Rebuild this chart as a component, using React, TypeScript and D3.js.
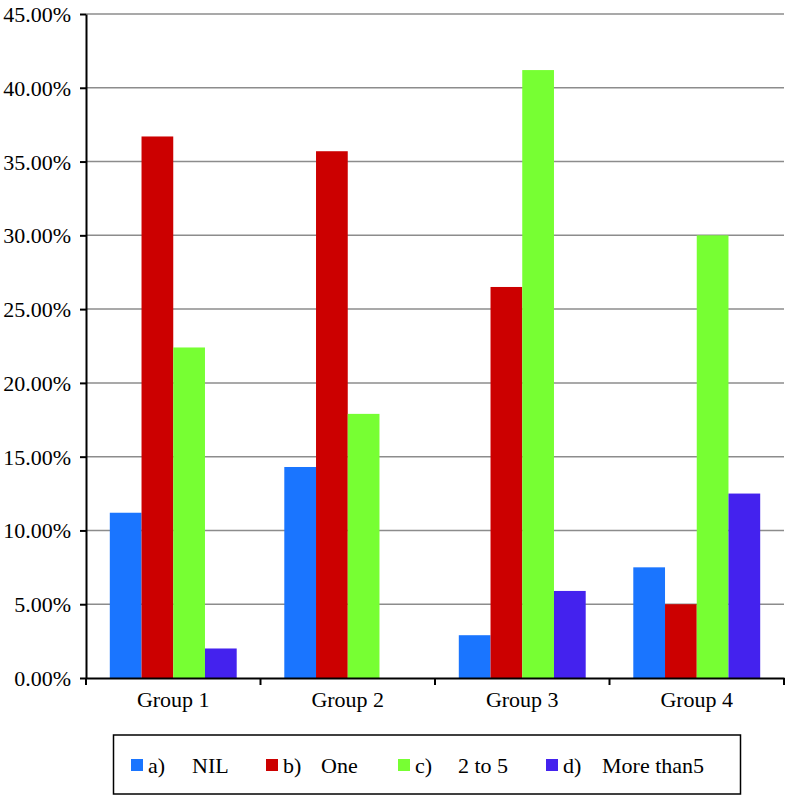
import React, { useRef, useEffect } from 'react';
import * as d3 from 'd3';

const groups = ['Group 1', 'Group 2', 'Group 3', 'Group 4'];
const seriesKeys = ['a)', 'b)', 'c)', 'd)'];
const seriesNames = ['NIL', 'One', '2 to 5', 'More than5'];
const nilValues = [11.2, 14.3, 2.9, 7.5];
const oneValues = [36.7, 35.7, 26.5, 5.0];
const twoToFiveValues = [22.4, 17.9, 41.2, 30.0];
const moreThanFiveValues = [2.0, 0, 5.9, 12.5];
const yTicks = [0, 5, 10, 15, 20, 25, 30, 35, 40, 45];
const colors = ['#1a75ff', '#cc0000', '#77ff33', '#4422ee'];

const W = 786;
const H = 796;
const margin = { left: 86, right: 2, top: 14, bottom: 118 };
const font = "'Liberation Serif', 'DejaVu Serif', serif";
const fontSize = '22px';

const App = () => {
  const ref = useRef<SVGSVGElement>(null);

  useEffect(() => {
    const svg = d3.select(ref.current).attr('width', W).attr('height', H);
    svg.selectAll('*').remove();

    const allSeries = [nilValues, oneValues, twoToFiveValues, moreThanFiveValues];

    const x0 = d3.scaleBand().domain(groups).range([margin.left, W - margin.right]);
    // gap width 150%: 4 bars + 1.5 bar of gap per band
    const x1 = d3.scaleBand().domain(seriesKeys).range([0, x0.bandwidth()]).paddingOuter(0.75).paddingInner(0);
    const y = d3.scaleLinear().domain([0, 45]).range([H - margin.bottom, margin.top]);

    // gridlines
    svg.append('g')
      .selectAll('line')
      .data(yTicks.filter(t => t > 0))
      .enter().append('line')
      .attr('x1', margin.left)
      .attr('x2', W - margin.right)
      .attr('y1', d => y(d))
      .attr('y2', d => y(d))
      .attr('stroke', '#8c8c8c')
      .attr('stroke-width', 1.5);

    // bars
    const gGroups = svg.append('g')
      .selectAll('g')
      .data(groups)
      .enter().append('g')
      .attr('transform', d => `translate(${x0(d)},0)`);

    gGroups.selectAll('rect')
      .data((g, gi) => seriesKeys.map((k, si) => ({ key: k, value: allSeries[si][gi], si })))
      .enter().append('rect')
      .attr('x', d => x1(d.key)!)
      .attr('width', x1.bandwidth())
      .attr('y', d => y(d.value))
      .attr('height', d => y(0) - y(d.value))
      .attr('fill', d => colors[d.si]);

    // y axis
    const yAxis = svg.append('g')
      .attr('transform', `translate(${margin.left},0)`)
      .call(d3.axisLeft(y).tickValues(yTicks).tickSize(6).tickSizeOuter(0).tickFormat(d => `${(+d).toFixed(2)}%`));
    yAxis.attr('font-family', null).attr('font-size', null);
    yAxis.select('.domain').attr('stroke', '#000').attr('stroke-width', 2);
    yAxis.selectAll('.tick line').attr('stroke', '#000').attr('stroke-width', 2);
    yAxis.selectAll('.tick text')
      .style('font-family', font)
      .style('font-size', fontSize)
      .attr('fill', '#000')
      .attr('x', -15)
      .attr('dy', '0.34em');

    // x axis
    const xAxis = svg.append('g')
      .attr('transform', `translate(0,${y(0)})`)
      .call(d3.axisBottom(x0).tickSize(0).tickSizeOuter(0));
    xAxis.attr('font-family', null).attr('font-size', null);
    xAxis.select('.domain').attr('stroke', '#000').attr('stroke-width', 2);
    xAxis.selectAll('.tick text')
      .style('font-family', font)
      .style('font-size', fontSize)
      .attr('fill', '#000')
      .attr('y', 13)
      .attr('dy', '0.71em');
    // category separators
    xAxis.append('g')
      .selectAll('line')
      .data([...groups.map(g => x0(g)!), W - margin.right])
      .enter().append('line')
      .attr('x1', d => d)
      .attr('x2', d => d)
      .attr('y1', 0)
      .attr('y2', 7)
      .attr('stroke', '#000')
      .attr('stroke-width', 2);

    // legend
    const legend = svg.append('g');
    legend.append('rect')
      .attr('x', 113.5)
      .attr('y', 735)
      .attr('width', 627)
      .attr('height', 59)
      .attr('fill', '#fff')
      .attr('stroke', '#000')
      .attr('stroke-width', 1.5);

    const itemX = [131, 266, 398, 546];
    const nameOffset = [61, 55, 60, 56];
    const items = legend.selectAll('g.item')
      .data(seriesKeys)
      .enter().append('g')
      .attr('class', 'item')
      .attr('transform', (d, i) => `translate(${itemX[i]},0)`);
    items.append('rect')
      .attr('x', 0)
      .attr('y', 759)
      .attr('width', 12)
      .attr('height', 12)
      .attr('fill', (d, i) => colors[i]);
    items.append('text')
      .attr('x', 17)
      .attr('y', 773)
      .style('font-family', font)
      .style('font-size', fontSize)
      .text(d => d);
    items.append('text')
      .attr('x', (d, i) => nameOffset[i])
      .attr('y', 773)
      .style('font-family', font)
      .style('font-size', fontSize)
      .text((d, i) => seriesNames[i]);
  }, []);

  return (
    <div style={{ position: 'absolute', left: 0, top: 0 }}>
      <svg ref={ref}></svg>
    </div>
  );
};

export default App;
